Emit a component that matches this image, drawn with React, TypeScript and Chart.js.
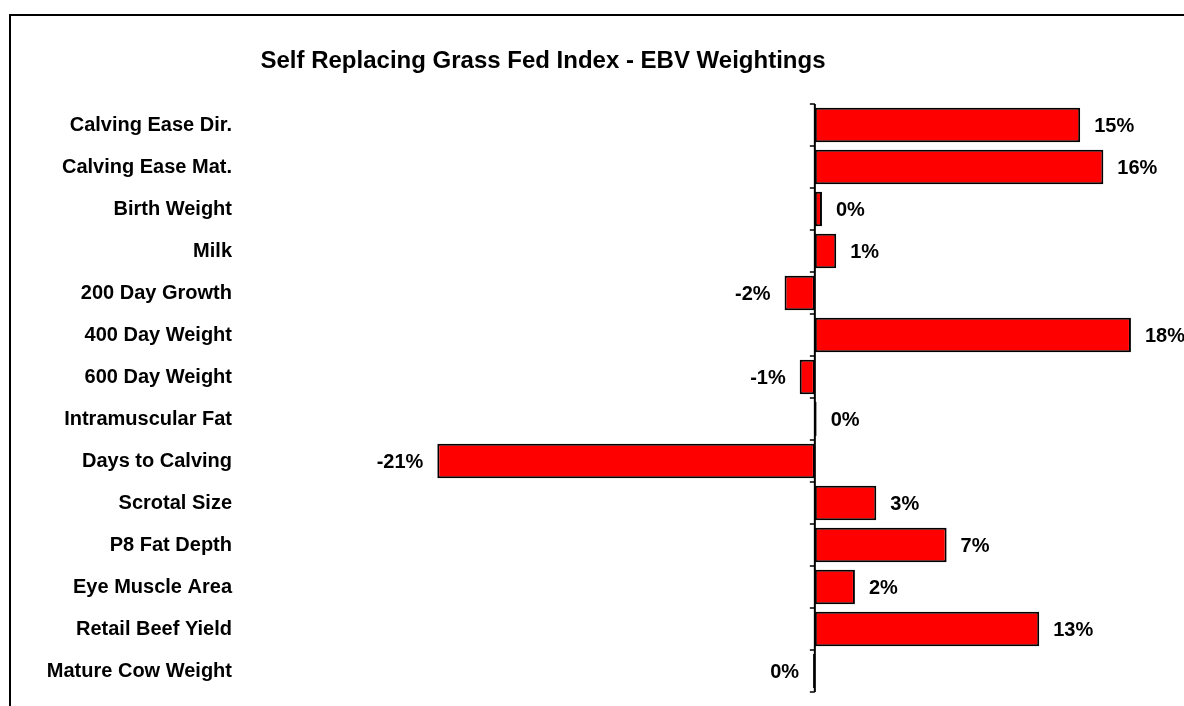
import React, { useEffect, useRef } from "react";
import { Chart, registerables } from "chart.js";

Chart.register(...registerables);

const TITLE = "Self Replacing Grass Fed Index - EBV Weightings";

const categories = [
  "Calving Ease Dir.",
  "Calving Ease Mat.",
  "Birth Weight",
  "Milk",
  "200 Day Growth",
  "400 Day Weight",
  "600 Day Weight",
  "Intramuscular Fat",
  "Days to Calving",
  "Scrotal Size",
  "P8 Fat Depth",
  "Eye Muscle Area",
  "Retail Beef Yield",
  "Mature Cow Weight",
];

// bar lengths (percent)
const weightings = [14.9, 16.2, 0.4, 1.2, -1.7, 17.75, -0.85, 0.1, -21.2, 3.45, 7.4, 2.25, 12.6, -0.1];

// value labels shown next to the bars
const valueLabels = ["15%", "16%", "0%", "1%", "-2%", "18%", "-1%", "0%", "-21%", "3%", "7%", "2%", "13%", "0%"];

const X_MIN = -32;
const X_MAX = 20;

const FONT = '"Liberation Sans", Arial, sans-serif';

const CANVAS_W = 1240;
const CANVAS_H = 730;

export default function App() {
  const ref = useRef<HTMLCanvasElement | null>(null);

  useEffect(() => {
    const canvas = ref.current;
    if (!canvas) return;

    const decorations = {
      id: "decorations",
      afterDatasetsDraw(chart: any) {
        const ctx = chart.ctx;
        const x = chart.scales.x;
        const y = chart.scales.y;
        const x0 = x.getPixelForValue(0);
        ctx.save();
        // zero axis
        const top = y.getPixelForValue(-0.5);
        const bottom = y.getPixelForValue(categories.length - 0.5);
        ctx.strokeStyle = "#000";
        ctx.lineWidth = 2;
        ctx.beginPath();
        ctx.moveTo(x0, top);
        ctx.lineTo(x0, bottom);
        ctx.stroke();
        // tick marks at category boundaries
        ctx.lineWidth = 1.5;
        for (let i = 0; i <= categories.length; i++) {
          const ty = y.getPixelForValue(i - 0.5);
          ctx.beginPath();
          ctx.moveTo(x0 - 5, ty);
          ctx.lineTo(x0, ty);
          ctx.stroke();
        }
        // value labels
        ctx.fillStyle = "#000";
        ctx.font = `bold 20px ${FONT}`;
        ctx.textBaseline = "middle";
        weightings.forEach((v, i) => {
          const py = y.getPixelForValue(i);
          const px = x.getPixelForValue(v);
          if (v >= 0) {
            ctx.textAlign = "left";
            ctx.fillText(valueLabels[i], px + 14, py + 1);
          } else {
            ctx.textAlign = "right";
            ctx.fillText(valueLabels[i], px - 14, py + 1);
          }
        });
        // title
        ctx.font = `bold 24px ${FONT}`;
        ctx.textAlign = "center";
        ctx.textBaseline = "alphabetic";
        ctx.fillText(TITLE, 532, 52);
        ctx.restore();
      },
    };

    const chart = new Chart(canvas, {
      type: "bar",
      data: {
        labels: categories,
        datasets: [
          {
            data: weightings,
            backgroundColor: "#FF0000",
            borderColor: "#000000",
            borderWidth: 2,
            borderSkipped: false,
            barPercentage: 0.82,
            categoryPercentage: 1,
          },
        ],
      },
      options: {
        indexAxis: "y",
        animation: false,
        responsive: false,
        devicePixelRatio: 1,
        layout: { padding: { top: 88, bottom: CANVAS_H - 676, left: 0, right: 80 } },
        plugins: {
          legend: { display: false },
          title: { display: false },
          tooltip: { enabled: false },
        },
        scales: {
          x: {
            display: false,
            min: X_MIN,
            max: X_MAX,
          },
          y: {
            grid: { display: false },
            border: { display: false },
            ticks: {
              autoSkip: false,
              color: "#000",
              padding: 5,
              font: { family: FONT, weight: "bold", size: 20 },
            },
            afterFit: (scale: any) => {
              scale.width = 234;
            },
          },
        },
      },
      plugins: [decorations],
    } as any);

    return () => chart.destroy();
  }, []);

  return (
    <div style={{ position: "fixed", inset: 0, overflow: "hidden", background: "#fff" }}>
      <div
        style={{
          position: "absolute",
          left: 9,
          top: 14,
          width: CANVAS_W + 4,
          height: CANVAS_H + 4,
          border: "2px solid #000",
          boxSizing: "border-box",
        }}
      >
        <canvas ref={ref} width={CANVAS_W} height={CANVAS_H} style={{ display: "block", width: CANVAS_W, height: CANVAS_H }} />
      </div>
    </div>
  );
}
